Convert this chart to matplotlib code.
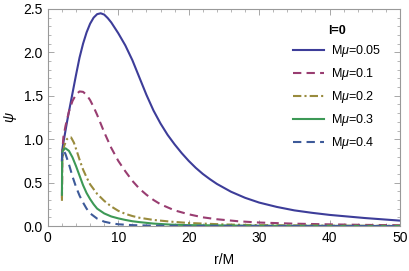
import numpy as np
import matplotlib
matplotlib.use('Agg')
import matplotlib.pyplot as plt
from matplotlib.ticker import MultipleLocator

plt.rcParams['font.family'] = ['Liberation Sans', 'DejaVu Sans']
plt.rcParams['mathtext.fontset'] = 'custom'
plt.rcParams['mathtext.rm'] = 'Liberation Sans'
plt.rcParams['mathtext.it'] = 'Liberation Sans:italic'

# values
r1 = [2.0, 2.05, 2.2, 2.4, 2.7, 3.0, 3.5, 4.0, 4.5, 5.0, 5.5, 6.0, 6.5, 7.0, 7.5, 8.0, 8.5, 9.0, 10.0,
      11.0, 12.0, 13.0, 14.0, 15.0, 16.0, 17.0, 18.0, 19.0, 20.0, 21.0, 22.0, 23.0, 24.0, 26.0, 28.0,
      30.0, 32.5, 35.0, 37.5, 40.0, 45.0, 50.0]
y1 = [0.75, 0.88, 0.96, 1.05, 1.19, 1.32, 1.53, 1.74, 1.94, 2.10, 2.23, 2.33, 2.40, 2.44, 2.45, 2.435, 2.395, 2.345, 2.22,
      2.08, 1.91, 1.71, 1.51, 1.33, 1.18, 1.05, 0.94, 0.84, 0.75, 0.67, 0.60, 0.54, 0.485, 0.395, 0.325,
      0.27, 0.22, 0.18, 0.152, 0.128, 0.092, 0.062]

r2 = [2.0, 2.05, 2.2, 2.5, 3.0, 3.5, 4.0, 4.5, 5.0, 5.5, 6.0, 6.5, 7.0, 7.5, 8.0, 9.0, 10.0, 11.0, 12.0,
      13.0, 14.0, 15.0, 16.0, 18.0, 20.0, 22.0, 24.0, 27.0, 30.0, 35.0, 40.0, 45.0, 50.0]
y2 = [0.32, 0.85, 1.02, 1.15, 1.32, 1.44, 1.515, 1.55, 1.545, 1.51, 1.45, 1.37, 1.28, 1.18, 1.08, 0.90, 0.75, 0.63, 0.52,
      0.43, 0.36, 0.30, 0.25, 0.18, 0.135, 0.10, 0.078, 0.055, 0.04, 0.027, 0.019, 0.013, 0.009]

r3 = [2.0, 2.05, 2.3, 2.7, 3.0, 3.3, 3.7, 4.2, 4.6, 5.0, 5.5, 6.0, 7.0, 8.0, 9.0, 10.0, 11.0, 12.0, 13.0,
      15.0, 17.5, 20.0, 25.0, 30.0, 40.0, 50.0]
y3 = [0.29, 0.75, 0.92, 1.0, 1.02, 1.02, 0.96, 0.84, 0.74, 0.65, 0.56, 0.48, 0.37, 0.29, 0.225, 0.175, 0.14, 0.115, 0.095,
      0.07, 0.05, 0.035, 0.018, 0.01, 0.004, 0.002]

r4 = [2.0, 2.02, 2.05, 2.2, 2.5, 3.0, 3.5, 4.0, 4.5, 5.0, 5.5, 6.0, 6.5, 7.0, 8.0, 9.0, 10.0, 11.0, 12.0,
      13.0, 15.0, 17.5, 20.0, 30.0, 50.0]
y4 = [0.36, 0.7, 0.85, 0.88, 0.895, 0.865, 0.79, 0.69, 0.58, 0.47, 0.38, 0.31, 0.25, 0.20, 0.145, 0.11, 0.088, 0.07, 0.055,
      0.045, 0.028, 0.016, 0.01, 0.003, 0.0]

r5 = [2.0, 2.05, 2.2, 2.5, 3.0, 3.5, 4.0, 4.5, 5.0, 5.5, 6.0, 7.0, 8.0, 9.0, 10.0, 12.0, 15.0, 20.0, 50.0]
y5 = [0.75, 0.86, 0.875, 0.83, 0.71, 0.57, 0.45, 0.35, 0.27, 0.2, 0.146, 0.085, 0.05, 0.032, 0.02, 0.01, 0.004, 0.001, 0.0]

labels = [r'M$\mu$=0.05', r'M$\mu$=0.1', r'M$\mu$=0.2', r'M$\mu$=0.3', r'M$\mu$=0.4']

fig = plt.figure(figsize=(4.09, 2.71), dpi=100)
ax = fig.add_axes([0.117, 0.166, 0.861, 0.801])

ax.plot(r1, y1, '-', color='#3d3d99', lw=1.5, label=labels[0])
ax.plot(r2, y2, '--', color='#993d71', lw=1.5, dashes=(4, 2.5), label=labels[1])
ax.plot(r3, y3, '-.', color='#998b3d', lw=1.5, dashes=(4, 1.5, 1, 1.5), label=labels[2])
ax.plot(r4, y4, '-', color='#3d9956', lw=1.5, label=labels[3])
ax.plot(r5, y5, '--', color='#3d5a99', lw=1.5, dashes=(4, 2.5), label=labels[4])

ax.set_xlim(0, 50)
ax.set_ylim(0, 2.5)
ax.xaxis.set_major_locator(MultipleLocator(10))
ax.xaxis.set_minor_locator(MultipleLocator(2))
ax.yaxis.set_major_locator(MultipleLocator(0.5))
ax.yaxis.set_minor_locator(MultipleLocator(0.1))
ax.tick_params(which='both', direction='in', top=True, right=True, color='#999999', labelsize=10)
ax.tick_params(which='major', length=4, width=0.6)
ax.tick_params(which='minor', length=2, width=0.5)
for s in ax.spines.values():
    s.set_color('#999999')
    s.set_linewidth(0.8)

ax.set_xlabel('r/M', fontsize=10, labelpad=6)
ax.set_ylabel(r'$\psi$', fontsize=10, labelpad=3)

leg = ax.legend(title='l=0', loc='upper right', bbox_to_anchor=(0.98, 0.98), frameon=False,
                fontsize=9, handlelength=2.5, handletextpad=0.6, labelspacing=0.55)
leg.get_title().set_fontweight('bold')
leg.get_title().set_fontsize(9)

fig.savefig('out.png', dpi=100)
